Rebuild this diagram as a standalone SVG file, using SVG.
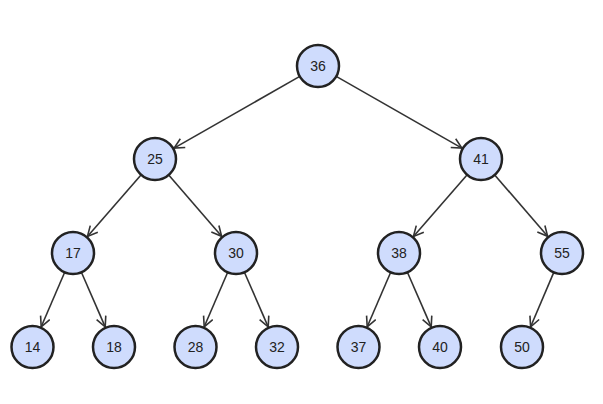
<svg xmlns="http://www.w3.org/2000/svg" width="603" height="404" viewBox="0 0 603 404">
<style>
.node circle{fill:#cfdcfd;stroke:#222;stroke-width:2.5}
.node text{font-family:"Liberation Sans",Arial,sans-serif;font-size:14px;fill:#222;text-anchor:middle;dominant-baseline:central}
.edges line{stroke:#333;stroke-width:1.6;marker-end:url(#arr)}
</style>
<defs>
<marker id="arr" markerUnits="userSpaceOnUse" markerWidth="14" markerHeight="14" refX="11" refY="6" orient="auto">
<path d="M1,1 L11,6 L1,11" fill="none" stroke="#333" stroke-width="1.6"/>
</marker>
</defs>
<rect width="603" height="404" fill="#fff"/>
<g class="edges">
<line x1="299.76" y1="76.41" x2="174.11" y2="148.10"/>
<line x1="336.24" y1="76.41" x2="461.89" y2="148.10"/>
<line x1="141.20" y1="174.83" x2="87.46" y2="236.42"/>
<line x1="168.71" y1="174.91" x2="221.64" y2="236.33"/>
<line x1="467.20" y1="174.83" x2="413.46" y2="236.42"/>
<line x1="494.71" y1="174.91" x2="547.64" y2="236.33"/>
<line x1="64.69" y1="272.29" x2="41.21" y2="326.80"/>
<line x1="81.40" y1="272.25" x2="105.20" y2="326.83"/>
<line x1="227.69" y1="272.29" x2="204.21" y2="326.80"/>
<line x1="244.40" y1="272.25" x2="268.20" y2="326.83"/>
<line x1="390.69" y1="272.29" x2="367.21" y2="326.80"/>
<line x1="407.40" y1="272.25" x2="431.20" y2="326.83"/>
<line x1="553.78" y1="272.32" x2="530.62" y2="326.76"/>
</g>
<g id="n36" class="node"><circle cx="318" cy="66" r="21"/><text x="318" y="66">36</text></g>
<g id="n25" class="node"><circle cx="155" cy="159" r="21"/><text x="155" y="159">25</text></g>
<g id="n41" class="node"><circle cx="481" cy="159" r="21"/><text x="481" y="159">41</text></g>
<g id="n17" class="node"><circle cx="73" cy="253" r="21"/><text x="73" y="253">17</text></g>
<g id="n30" class="node"><circle cx="236" cy="253" r="21"/><text x="236" y="253">30</text></g>
<g id="n38" class="node"><circle cx="399" cy="253" r="21"/><text x="399" y="253">38</text></g>
<g id="n55" class="node"><circle cx="562" cy="253" r="21"/><text x="562" y="253">55</text></g>
<g id="n14" class="node"><circle cx="32.5" cy="347" r="21"/><text x="32.5" y="347">14</text></g>
<g id="n18" class="node"><circle cx="114" cy="347" r="21"/><text x="114" y="347">18</text></g>
<g id="n28" class="node"><circle cx="195.5" cy="347" r="21"/><text x="195.5" y="347">28</text></g>
<g id="n32" class="node"><circle cx="277" cy="347" r="21"/><text x="277" y="347">32</text></g>
<g id="n37" class="node"><circle cx="358.5" cy="347" r="21"/><text x="358.5" y="347">37</text></g>
<g id="n40" class="node"><circle cx="440" cy="347" r="21"/><text x="440" y="347">40</text></g>
<g id="n50" class="node"><circle cx="522" cy="347" r="21"/><text x="522" y="347">50</text></g>
</svg>
